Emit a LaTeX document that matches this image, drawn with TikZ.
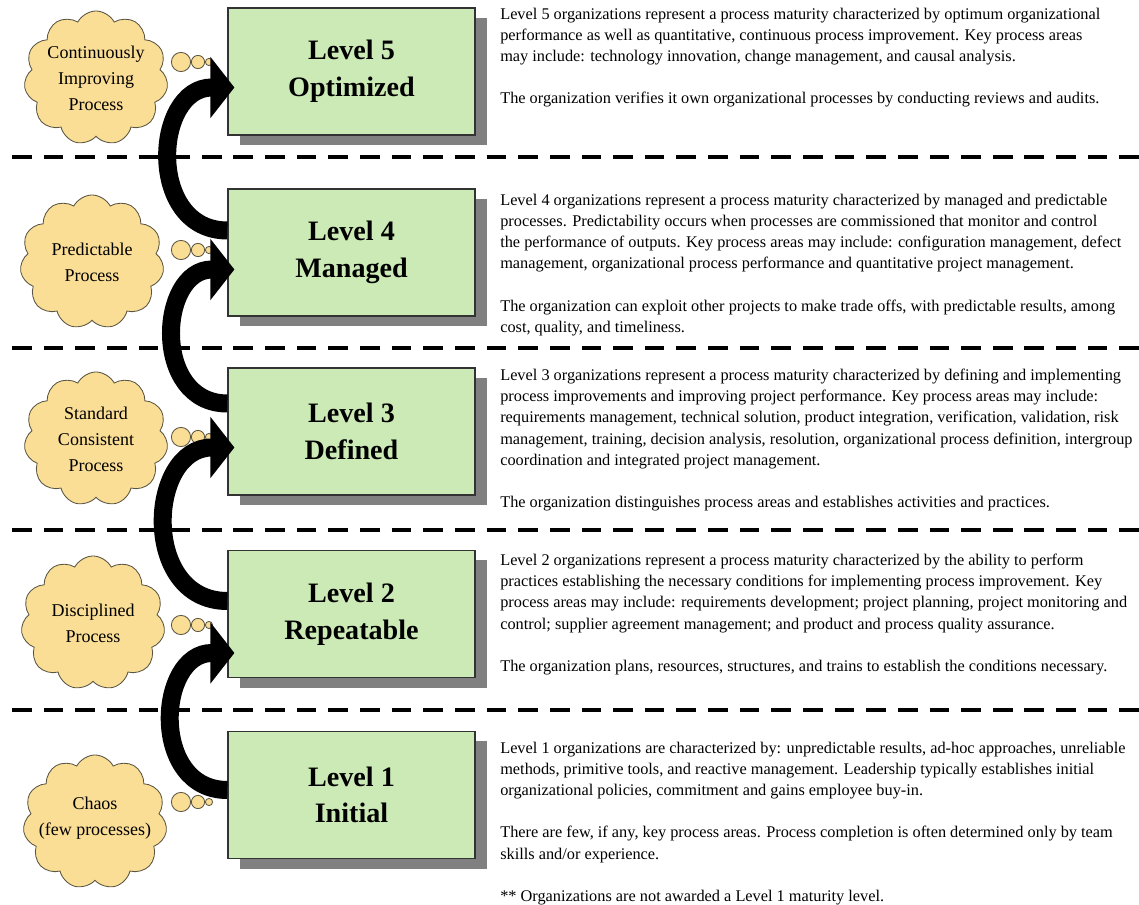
\documentclass[tikz,border=0pt]{standalone}
\usepackage{fontspec}
\setmainfont{Liberation Serif}
\usetikzlibrary{shapes.symbols, shadows, arrows.meta, calc}
\definecolor{lvlgreen}{RGB}{204,234,182}
\definecolor{thoughtyellow}{RGB}{250,222,150}
\definecolor{shadowgray}{RGB}{128,128,128}

\tikzset{
  levelbox/.style={draw=black!80, line width=0.8pt, fill=lvlgreen,
    minimum width=6.175cm, minimum height=3.175cm, align=center,
    font=\fontsize{20}{26}\selectfont\bfseries,
    drop shadow={shadow xshift=0.3cm, shadow yshift=-0.25cm, fill=shadowgray, opacity=1}},
  thought/.style={cloud, cloud puffs=11, cloud puff arc=125, cloud ignores aspect,
    draw=black!75!yellow, line width=0.6pt, fill=thoughtyellow,
    minimum width=3.6cm, minimum height=3.35cm},
  thoughttext/.style={align=center, font=\fontsize{12.8}{18.5}\selectfont},
  bubble/.style={draw=black!75!yellow, line width=0.6pt, fill=thoughtyellow},
  divider/.style={line width=3.2pt, dash pattern=on 14pt off 8.5pt},
  bigarrow/.style={line width=12.8pt, -{Triangle[length=0.6cm, width=1.5cm]}},
  desc/.style={anchor=north west, align=left, inner sep=0pt,
    font=\fontsize{11.6}{15}\selectfont}
}

\begin{document}
\begin{tikzpicture}[x=0.025cm, y=-0.025cm]
  \useasboundingbox (0,0) rectangle (1139,905);

  \foreach \y in {157,348,530,710}
    \draw[divider] (12,\y) -- (1139,\y);

  \node[thought] (c5) at (96,78) {};
  \node[thought] (c4) at (92,262) {};
  \node[thought] (c3) at (96,439) {};
  \node[thought] (c2) at (93,623) {};
  \node[thought] (c1) at (95,822) {};
  \node[thoughttext] (t5) at (c5) {Continuously\\Improving\\Process};
  \node[thoughttext] (t4) at (c4) {Predictable\\Process};
  \node[thoughttext] (t3) at (c3) {Standard\\Consistent\\Process};
  \node[thoughttext] (t2) at (c2) {Disciplined\\Process};
  \node[thoughttext] (t1) at ([yshift=0.1cm]c1) {Chaos\\(few processes)};

  \foreach \y in {62,250,437,625,802} {
    \filldraw[bubble] (181,\y) circle (0.24cm);
    \filldraw[bubble] (198,\y) circle (0.165cm);
    \filldraw[bubble] (209,\y) circle (0.09cm);
  }

  \node[levelbox] (l5) at (351.5,71.5) {Level 5\\Optimized};
  \node[levelbox] (l4) at (351.5,252.5) {Level 4\\Managed};
  \node[levelbox] (l3) at (351.5,431.5) {Level 3\\Defined};
  \node[levelbox] (l2) at (351.5,614) {Level 2\\Repeatable};
  \node[levelbox] (l1) at (351.5,795) {Level 1\\Initial};

  \foreach \lo/\hi/\t/\h in {1/2/-5/39, 2/3/-13/16, 3/4/-28/17, 4/5/-22/16}
    \draw[bigarrow] ($(l\lo.west)+(0,\t)$) to[out=180, in=180, looseness=1.45] ($(l\hi.west)+(7,\h)$);

  \node[desc] (d5) at (500,8) {Level 5 organizations represent a process maturity characterized by optimum organizational\\
    performance as well as quantitative, continuous process improvement. Key process areas\\
    may include: technology innovation, change management, and causal analysis.\\[15pt]
    The organization verifies it own organizational processes by conducting reviews and audits.};
  \node[desc] (d4) at (500,194) {Level 4 organizations represent a process maturity characterized by managed and predictable\\
    processes. Predictability occurs when processes are commissioned that monitor and control\\
    the performance of outputs. Key process areas may include: configuration management, defect\\
    management, organizational process performance and quantitative project management.\\[15pt]
    The organization can exploit other projects to make trade offs, with predictable results, among\\
    cost, quality, and timeliness.};
  \node[desc] (d3) at (500,369) {Level 3 organizations represent a process maturity characterized by defining and implementing\\
    process improvements and improving project performance. Key process areas may include:\\
    requirements management, technical solution, product integration, verification, validation, risk\\
    management, training, decision analysis, resolution, organizational process definition, intergroup\\
    coordination and integrated project management.\\[15pt]
    The organization distinguishes process areas and establishes activities and practices.};
  \node[desc] (d2) at (500,554) {Level 2 organizations represent a process maturity characterized by the ability to perform\\
    practices establishing the necessary conditions for implementing process improvement. Key\\
    process areas may include: requirements development; project planning, project monitoring and\\
    control; supplier agreement management; and product and process quality assurance.\\[15pt]
    The organization plans, resources, structures, and trains to establish the conditions necessary.};
  \node[desc] (d1) at (500,742) {Level 1 organizations are characterized by: unpredictable results, ad-hoc approaches, unreliable\\
    methods, primitive tools, and reactive management. Leadership typically establishes initial\\
    organizational policies, commitment and gains employee buy-in.\\[15pt]
    There are few, if any, key process areas. Process completion is often determined only by team\\
    skills and/or experience.\\[15pt]
    ** Organizations are not awarded a Level 1 maturity level.};
\end{tikzpicture}
\end{document}
